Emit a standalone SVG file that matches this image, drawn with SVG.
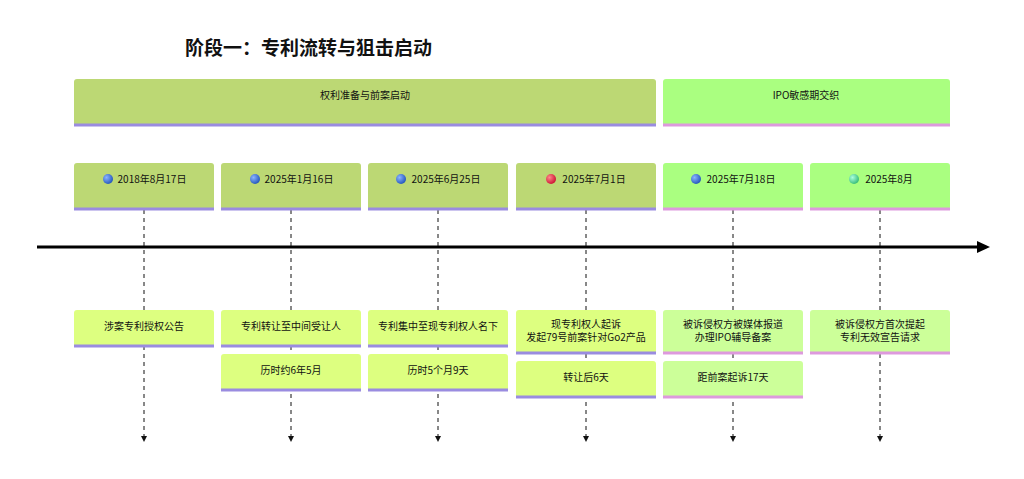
<svg xmlns="http://www.w3.org/2000/svg" width="1024" height="479" viewBox="0 0 1024 479">
<defs>
<style>
text{font-family:"Noto Sans CJK SC","Liberation Sans",sans-serif;font-size:10px;fill:#111;text-anchor:middle}
.t{font-size:19px;font-weight:bold;text-anchor:start}
.a{fill:#bcd874}.b{fill:#aaff80}.c{fill:#ddff80}.d{fill:#ccff99}
.p{stroke:#9a8ce0;stroke-width:3}.k{stroke:#dd99dd;stroke-width:3}
.dash{stroke:#111;stroke-dasharray:4,4;fill:none}
.h{fill:#111}
</style>
<radialGradient id="gb" cx="0.35" cy="0.35" r="0.7"><stop offset="0" stop-color="#8ab4ff"/><stop offset="1" stop-color="#2255bb"/></radialGradient>
<radialGradient id="gr" cx="0.35" cy="0.35" r="0.7"><stop offset="0" stop-color="#ff8888"/><stop offset="1" stop-color="#cc1133"/></radialGradient>
<radialGradient id="gg" cx="0.35" cy="0.35" r="0.7"><stop offset="0" stop-color="#aaffdd"/><stop offset="1" stop-color="#33bb77"/></radialGradient>
</defs>
<rect width="1024" height="479" fill="#fff"/>
<text class="t" x="185" y="55">阶段一：专利流转与狙击启动</text>
<g id="cat1"><rect class="a" x="74" y="79" width="582" height="47" rx="3"/><line class="p" x1="74" y1="125" x2="656" y2="125"/><text x="365" y="99">权利准备与前案启动</text></g>
<g id="cat2"><rect class="b" x="663" y="79" width="287" height="47" rx="3"/><line class="k" x1="663" y1="125" x2="950" y2="125"/><text x="806" y="99">IPO敏感期交织</text></g>
<g id="connectors">
<line x1="37" y1="247" x2="980" y2="247" stroke="#000" stroke-width="3"/>
<path d="M977,241L990,247L977,253Z" fill="#000"/>
<line class="dash" x1="144" y1="210" x2="144" y2="436"/><path class="h" d="M141,436h6l-3,6z"/>
<line class="dash" x1="291" y1="210" x2="291" y2="436"/><path class="h" d="M288,436h6l-3,6z"/>
<line class="dash" x1="438" y1="210" x2="438" y2="436"/><path class="h" d="M435,436h6l-3,6z"/>
<line class="dash" x1="586" y1="210" x2="586" y2="436"/><path class="h" d="M583,436h6l-3,6z"/>
<line class="dash" x1="733" y1="210" x2="733" y2="436"/><path class="h" d="M730,436h6l-3,6z"/>
<line class="dash" x1="880" y1="210" x2="880" y2="436"/><path class="h" d="M877,436h6l-3,6z"/>
</g>
<g id="d1"><rect class="a" x="74" y="163" width="140" height="47" rx="3"/><line class="p" x1="74" y1="209" x2="214" y2="209"/><circle cx="108" cy="179" r="5" fill="url(#gb)"/><text x="152" y="183">2018年8月17日</text></g>
<g id="d2"><rect class="a" x="221" y="163" width="140" height="47" rx="3"/><line class="p" x1="221" y1="209" x2="361" y2="209"/><circle cx="255" cy="179" r="5" fill="url(#gb)"/><text x="299" y="183">2025年1月16日</text></g>
<g id="d3"><rect class="a" x="368" y="163" width="140" height="47" rx="3"/><line class="p" x1="368" y1="209" x2="508" y2="209"/><circle cx="401" cy="179" r="5" fill="url(#gb)"/><text x="446" y="183">2025年6月25日</text></g>
<g id="d4"><rect class="a" x="516" y="163" width="140" height="47" rx="3"/><line class="p" x1="516" y1="209" x2="656" y2="209"/><circle cx="551" cy="179" r="5" fill="url(#gr)"/><text x="594" y="183">2025年7月1日</text></g>
<g id="d5"><rect class="b" x="663" y="163" width="140" height="47" rx="3"/><line class="k" x1="663" y1="209" x2="803" y2="209"/><circle cx="696" cy="179" r="5" fill="url(#gb)"/><text x="741" y="183">2025年7月18日</text></g>
<g id="d6"><rect class="b" x="810" y="163" width="140" height="47" rx="3"/><line class="k" x1="810" y1="209" x2="950" y2="209"/><circle cx="854" cy="179" r="5" fill="url(#gg)"/><text x="889" y="183">2025年8月</text></g>
<g id="e1"><rect class="c" x="74" y="310" width="140" height="37" rx="3"/><line class="p" x1="74" y1="346" x2="214" y2="346"/><text x="144" y="330">涉案专利授权公告</text></g>
<g id="e2"><rect class="c" x="221" y="310" width="140" height="37" rx="3"/><line class="p" x1="221" y1="346" x2="361" y2="346"/><text x="291" y="330">专利转让至中间受让人</text></g>
<g id="e2b"><rect class="c" x="221" y="354" width="140" height="37" rx="3"/><line class="p" x1="221" y1="390" x2="361" y2="390"/><text x="291" y="374">历时约6年5月</text></g>
<g id="e3"><rect class="c" x="368" y="310" width="140" height="37" rx="3"/><line class="p" x1="368" y1="346" x2="508" y2="346"/><text x="438" y="330">专利集中至现专利权人名下</text></g>
<g id="e3b"><rect class="c" x="368" y="354" width="140" height="37" rx="3"/><line class="p" x1="368" y1="390" x2="508" y2="390"/><text x="438" y="374">历时5个月9天</text></g>
<g id="e4"><rect class="c" x="516" y="310" width="140" height="44" rx="3"/><line class="p" x1="516" y1="353" x2="656" y2="353"/><text x="586" y="328">现专利权人起诉</text><text x="586" y="341">发起79号前案针对Go2产品</text></g>
<g id="e4b"><rect class="c" x="516" y="361" width="140" height="37" rx="3"/><line class="p" x1="516" y1="397" x2="656" y2="397"/><text x="586" y="381">转让后6天</text></g>
<g id="e5"><rect class="d" x="663" y="310" width="140" height="44" rx="3"/><line class="k" x1="663" y1="353" x2="803" y2="353"/><text x="733" y="328">被诉侵权方被媒体报道</text><text x="733" y="341">办理IPO辅导备案</text></g>
<g id="e5b"><rect class="d" x="663" y="361" width="140" height="37" rx="3"/><line class="k" x1="663" y1="397" x2="803" y2="397"/><text x="733" y="381">距前案起诉17天</text></g>
<g id="e6"><rect class="d" x="810" y="310" width="140" height="44" rx="3"/><line class="k" x1="810" y1="353" x2="950" y2="353"/><text x="880" y="328">被诉侵权方首次提起</text><text x="880" y="341">专利无效宣告请求</text></g>
</svg>
